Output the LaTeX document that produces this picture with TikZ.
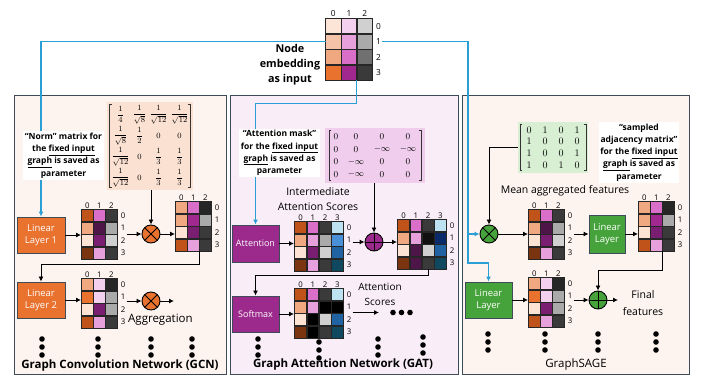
\documentclass[tikz,border=0pt]{standalone}
\usepackage{fontspec}
\setmainfont{Open Sans}
\usepackage{amsmath}
\usetikzlibrary{matrix,arrows.meta,positioning}

% square brackets round a parameter matrix
\newcommand{\mbrack}[2]{%
    \draw[brk] ([shift={(#2+2.5,3)}]#1.north west) -- ([shift={(#2,3)}]#1.north west) -- ([shift={(#2,-3)}]#1.south west) -- ([shift={(#2+2.5,-3)}]#1.south west);
    \draw[brk] ([shift={(-#2-2.5,3)}]#1.north east) -- ([shift={(-#2,3)}]#1.north east) -- ([shift={(-#2,-3)}]#1.south east) -- ([shift={(-#2-2.5,-3)}]#1.south east);
}

\begin{document}
\begin{tikzpicture}[x=1pt, y=-1pt,
    panel/.style={draw=frame, line width=1.3pt, anchor=north west, inner sep=0pt},
    cell/.style={draw=black!85, line width=0.5pt, minimum width=11.5pt, minimum height=12pt, inner sep=0pt, outer sep=0pt},
    heat/.style={matrix of nodes, nodes in empty cells, anchor=north west, inner sep=0pt, draw=black!85, line width=0.9pt, nodes={cell}},
    pmat/.style={matrix of math nodes, inner xsep=3pt, inner ysep=2pt, column sep=0pt, row sep=0pt, nodes={inner sep=0pt, anchor=center}},
    brk/.style={line width=0.6pt, black!80},
    idx/.style={font=\fontsize{7.8}{8}\selectfont, inner sep=1pt},
    layer/.style={draw=frame, line width=0.9pt, text=white, align=center, font=\fontsize{9.5}{12}\selectfont, inner sep=1pt},
    note/.style={fill=white, align=center, font=\bfseries\fontsize{8.5}{12.2}\selectfont, inner sep=1.5pt},
    op/.style={circle, draw=black, line width=0.9pt, minimum size=18pt, inner sep=0pt},
    otimes/.style={op, path picture={\draw[line width=0.9pt] (path picture bounding box.north west) -- (path picture bounding box.south east) (path picture bounding box.north east) -- (path picture bounding box.south west);}},
    oplus/.style={op, path picture={\draw[line width=0.9pt] (path picture bounding box.north) -- (path picture bounding box.south) (path picture bounding box.west) -- (path picture bounding box.east);}},
    arr/.style={-{Latex[length=5pt,width=5pt]}, line width=0.9pt},
    blu/.style={arr, draw=wire, line width=1.1pt},
    lbl/.style={font=\fontsize{10.5}{15}\selectfont, align=center, inner sep=0pt},
    title/.style={font=\bfseries\fontsize{11.5}{14}\selectfont, inner sep=0pt}]
    \definecolor{frame}{HTML}{3E4C59}
    \definecolor{wire}{HTML}{2A9FD6}
    \definecolor{bgO}{HTML}{FDF3EF}
    \definecolor{bgP}{HTML}{F9EEF8}
    \definecolor{normbg}{HTML}{FBE1D1}
    \definecolor{maskbg}{HTML}{F0CDEC}
    \definecolor{adjbg}{HTML}{D8EFD4}
    \definecolor{orL}{HTML}{E8722E}
    \definecolor{puL}{HTML}{9B2A8C}
    \definecolor{grL}{HTML}{46A23A}
    % heat map colours
    \definecolor{oA}{HTML}{C0531A}\definecolor{oB}{HTML}{F0A880}\definecolor{oC}{HTML}{FDE3D3}
    \definecolor{oD}{HTML}{7A3510}\definecolor{oE}{HTML}{E8722E}\definecolor{oF}{HTML}{F5C4A8}
    \definecolor{oG}{HTML}{FCE4D6}
    \definecolor{pA}{HTML}{D96FC9}\definecolor{pB}{HTML}{E6A0DC}\definecolor{pC}{HTML}{F2D0EE}
    \definecolor{pD}{HTML}{7A1E72}\definecolor{pE}{HTML}{4E1648}\definecolor{pF}{HTML}{A0288F}
    \definecolor{gA}{HTML}{3A3A3A}\definecolor{gB}{HTML}{AAAAAA}\definecolor{gC}{HTML}{D0D0D0}
    \definecolor{gD}{HTML}{262626}\definecolor{gE}{HTML}{707070}\definecolor{gF}{HTML}{111111}
    \definecolor{bA}{HTML}{BDE3F3}\definecolor{bB}{HTML}{4A90D9}\definecolor{bC}{HTML}{2062A2}
    \definecolor{bD}{HTML}{104860}\definecolor{bE}{HTML}{0A2A6A}

    \useasboundingbox (0,0) rectangle (702,379);

    % Panels
    \node[panel, fill=bgO, minimum width=212pt, minimum height=279pt] (gcn) at (14,95) {};
    \node[panel, fill=bgP, minimum width=228pt, minimum height=279pt] (gat) at (230,95) {};
    \node[panel, fill=bgO, minimum width=227pt, minimum height=279pt] (sage) at (462,95) {};

    % Input embedding
    \matrix[heat, nodes={minimum width=15.2pt, minimum height=15pt}] (emb) at (325,18) {
        |[fill=oG]| & |[fill=pC]| & |[fill=gC]| \\
        |[fill=oF]| & |[fill=pB]| & |[fill=gB]| \\
        |[fill=oB]| & |[fill=pA]| & |[fill=gE]| \\
        |[fill=oE]| & |[fill=pF]| & |[fill=gA]| \\
    };
    \foreach \c in {1,2,3}{
        \pgfmathtruncatemacro{\k}{\c-1}
        \node[idx, font=\fontsize{8.3}{9}\selectfont, above=0.5pt] at (emb-1-\c.north) {\k};
    }
    \foreach \r in {1,...,4}{
        \pgfmathtruncatemacro{\k}{\r-1}
        \node[idx, font=\fontsize{8.3}{9}\selectfont, right=2.5pt] (emb-r\r) at (emb-\r-3.east) {\k};
    }
    \node[font=\bfseries\fontsize{10.8}{15}\selectfont, align=center, inner sep=0pt] (embtxt) at (290,65) {Node\\embedding\\as input};

    % GCN
    \node[layer, fill=orL, minimum width=48pt, minimum height=36pt] (lin1) at (41,235) {Linear\\Layer 1};
    \node[layer, fill=orL, minimum width=48pt, minimum height=36pt] (lin2) at (41,300) {Linear\\Layer 2};
    \matrix[pmat, fill=normbg, nodes={minimum height=21pt, minimum width=21pt, font=\fontsize{8.5}{9}\selectfont},
        column 2/.style={nodes={minimum width=17pt}}] (norm) at (150,146) {
        \dfrac{1}{4} & \dfrac{1}{\sqrt{8}} & \dfrac{1}{\sqrt{12}} & \dfrac{1}{\sqrt{12}} \\
        \dfrac{1}{\sqrt{8}} & \dfrac{1}{2} & 0 & 0 \\
        \dfrac{1}{\sqrt{12}} & 0 & \dfrac{1}{3} & \dfrac{1}{3} \\
        \dfrac{1}{\sqrt{12}} & 0 & \dfrac{1}{3} & \dfrac{1}{3} \\
    };
    \mbrack{norm}{2.5}
    \matrix[heat] (m1) at (81,209) {
        |[fill=oA]| & |[fill=pA]| & |[fill=gA]| \\
        |[fill=oB]| & |[fill=pE]| & |[fill=gB]| \\
        |[fill=oC]| & |[fill=pD]| & |[fill=gC]| \\
        |[fill=oD]| & |[fill=pB]| & |[fill=gA]| \\
    };
    \matrix[heat] (m2) at (175,201) {
        |[fill=oB]| & |[fill=pA]| & |[fill=gD]| \\
        |[fill=oB]| & |[fill=pF]| & |[fill=gB]| \\
        |[fill=oC]| & |[fill=pD]| & |[fill=gA]| \\
        |[fill=oA]| & |[fill=pB]| & |[fill=gA]| \\
    };
    \matrix[heat] (m3) at (81,278) {
        |[fill=oB]| & |[fill=pC]| & |[fill=gD]| \\
        |[fill=oE]| & |[fill=pC]| & |[fill=gB]| \\
        |[fill=oC]| & |[fill=pD]| & |[fill=gB]| \\
        |[fill=oA]| & |[fill=pB]| & |[fill=gA]| \\
    };
    \node[otimes, fill=orL] (o1) at (151,234) {};
    \node[otimes, fill=orL] (o2) at (151,301) {};
    \node[lbl, font=\fontsize{11.5}{14}\selectfont, anchor=west] (aggr) at (128,320) {Aggregation};
    \node[title] (gcntitle) at (120,366) {Graph Convolution Network (GCN)};

    % GAT
    \node[layer, fill=puL, minimum width=47pt, minimum height=37pt, font=\fontsize{9}{11}\selectfont] (att) at (255.5,243.5) {Attention};
    \node[layer, fill=puL, minimum width=47pt, minimum height=36pt, font=\fontsize{9}{11}\selectfont] (sm) at (255.5,314) {Softmax};
    \matrix[pmat, fill=maskbg, inner xsep=4pt, nodes={minimum height=12.75pt, minimum width=26pt, font=\fontsize{9}{10}\selectfont},
        column 1/.style={nodes={minimum width=14pt}}] (mask) at (375,155.5) {
        0 & 0 & 0 & 0 \\
        0 & 0 & -\infty & -\infty \\
        0 & -\infty & 0 & 0 \\
        0 & -\infty & 0 & 0 \\
    };
    \mbrack{mask}{4}
    \matrix[heat, nodes={minimum width=11.75pt}] (m4) at (294,221) {
        |[fill=oA]| & |[fill=pA]| & |[fill=gA]| & |[fill=bA]| \\
        |[fill=oB]| & |[fill=pB]| & |[fill=gB]| & |[fill=bB]| \\
        |[fill=oC]| & |[fill=pD]| & |[fill=gC]| & |[fill=bC]| \\
        |[fill=oD]| & |[fill=pB]| & |[fill=gA]| & |[fill=bD]| \\
    };
    \matrix[heat, nodes={minimum width=11.75pt}] (m5) at (397,219) {
        |[fill=oA]| & |[fill=pA]| & |[fill=gA]| & |[fill=bA]| \\
        |[fill=oB]| & |[fill=pB]| & |[fill=gF]| & |[fill=bE]| \\
        |[fill=oC]| & |[fill=pE]| & |[fill=gC]| & |[fill=bC]| \\
        |[fill=oD]| & |[fill=pE]| & |[fill=gA]| & |[fill=bD]| \\
    };
    \matrix[heat, nodes={minimum width=11.75pt}] (m6) at (294,288) {
        |[fill=oA]| & |[fill=pA]| & |[fill=gA]| & |[fill=bA]| \\
        |[fill=oB]| & |[fill=pB]| & |[fill=black]| & |[fill=black]| \\
        |[fill=oC]| & |[fill=black]| & |[fill=gC]| & |[fill=bC]| \\
        |[fill=oD]| & |[fill=black]| & |[fill=gA]| & |[fill=bD]| \\
    };
    \node[oplus, fill=puL] (o3) at (374,242) {};
    \node[lbl] (inter) at (318,199.5) {Intermediate\\Attention Scores};
    \node[lbl, font=\fontsize{10}{15}\selectfont] (scores) at (380,294.5) {Attention\\Scores};
    \coordinate (scend) at (379,312.5);
    \node[title] (gattitle) at (343,365) {Graph Attention Network (GAT)};

    % GraphSAGE
    \matrix[pmat, fill=adjbg, nodes={minimum height=11.75pt, minimum width=16pt, font=\fontsize{10}{11}\selectfont}] (adj) at (553,147.5) {
        0 & 1 & 0 & 1 \\
        1 & 0 & 0 & 0 \\
        1 & 0 & 0 & 1 \\
        1 & 0 & 1 & 0 \\
    };
    \mbrack{adj}{2}
    \node[otimes, fill=grL] (sx) at (489,234) {};
    \matrix[heat] (m7) at (528,209) {
        |[fill=oA]| & |[fill=pA]| & |[fill=gA]| \\
        |[fill=oB]| & |[fill=pE]| & |[fill=gB]| \\
        |[fill=oC]| & |[fill=pD]| & |[fill=gC]| \\
        |[fill=oD]| & |[fill=pB]| & |[fill=gA]| \\
    };
    \node[layer, fill=grL, minimum width=36pt, minimum height=38pt] (slin1) at (607,234) {Linear\\Layer};
    \matrix[heat] (m8) at (638,201) {
        |[fill=oB]| & |[fill=pA]| & |[fill=gD]| \\
        |[fill=oB]| & |[fill=pF]| & |[fill=gB]| \\
        |[fill=oC]| & |[fill=pD]| & |[fill=gA]| \\
        |[fill=oA]| & |[fill=pB]| & |[fill=gA]| \\
    };
    \node[layer, fill=grL, minimum width=47pt, minimum height=36pt] (slin2) at (488.5,300) {Linear\\Layer};
    \matrix[heat] (m9) at (528,277) {
        |[fill=oB]| & |[fill=pC]| & |[fill=gD]| \\
        |[fill=oE]| & |[fill=pC]| & |[fill=gB]| \\
        |[fill=oC]| & |[fill=pD]| & |[fill=gB]| \\
        |[fill=oA]| & |[fill=pB]| & |[fill=gA]| \\
    };
    \node[oplus, fill=grL] (o4) at (598,300) {};
    \node[lbl] (mean) at (565,191) {Mean aggregated features};
    \node[lbl, font=\fontsize{10.5}{17}\selectfont] (final) at (643,303.5) {Final\\features};
    \node[font=\fontsize{11.5}{14}\selectfont, inner sep=0pt] (sagetitle) at (576,365) {GraphSAGE};

    % Index labels
    \foreach \m/\n in {m1/3,m2/3,m3/3,m4/4,m5/4,m6/4,m7/3,m8/3,m9/3}{
        \foreach \c in {1,...,\n}{
            \pgfmathtruncatemacro{\k}{\c-1}
            \node[idx, above=0.3pt] at (\m-1-\c.north) {\k};
        }
        \foreach \r in {1,...,4}{
            \pgfmathtruncatemacro{\k}{\r-1}
            \node[idx, right=2.5pt] (\m-r\r) at (\m-\r-\n.east) {\k};
        }
    }

    % Input wires
    \coordinate (vbus) at (468,263);
    \draw[blu] (emb-2-1.west) -| (lin1.north);
    \draw[blu] (emb-4-2.south east) |- ([yshift=121pt]att.north) -- (att.north);
    \draw[blu] (emb-r2.east) -| (vbus) -| (slin2.north);
    \draw[blu] (vbus |- sx.west) -- (sx.west);

    % Parameter notes (on top of wires)
    \node[note] (normtxt) at (63.5,155.5) {“Norm” matrix for\\the \underline{fixed input}\\\underline{graph} is saved as\\parameter};
    \node[note] (masktxt) at (279.5,153) {“Attention mask”\\for the \underline{fixed input}\\\underline{graph} is saved as\\parameter};
    \node[note] (adjtxt) at (639,152.5) {“sampled\\adjacency matrix”\\for the \underline{fixed input}\\\underline{graph }is saved as\\parameter};

    % GCN connectors
    \draw[arr] (norm.south -| o1) -- (o1.north);
    \draw[arr] (lin1.east) -- (lin1.east -| m1.west);
    \draw[arr] (m1-r2.east |- o1.west) -- (o1.west);
    \draw[arr] (o1.east) -- (o1.east -| m2.west);
    \draw[arr] (m2-4-2.south east) |- ([yshift=17pt]lin2.north) -- (lin2.north);
    \draw[arr] (lin2.east) -- (lin2.east -| m3.west);
    \draw[arr] (m3-r2.east |- o2.west) -- (o2.west);
    \coordinate (gcnend) at (174,301);
    \draw[arr] (o2.east) -- (gcnend);

    % GAT connectors
    \draw[arr] (mask.south -| o3) -- (o3.north);
    \draw[arr] (att.east) -- (att.east -| m4.west);
    \draw[arr] (m4-r2.east |- o3.west) -- (o3.west);
    \draw[arr] (o3.east) -- (o3.east -| m5.west);
    \draw[arr] (m5-4-3.south) |- ([yshift=20pt]sm.north) -- (sm.north);
    \draw[arr] (sm.east) -- (sm.east -| m6.west);
    \draw[arr] (m6-r2.east |- scend) -- (scend);

    % GraphSAGE connectors
    \draw[arr] (adj.west) -| (sx.north);
    \draw[arr] (sx.east) -- (sx.east -| m7.west);
    \draw[arr] (m7-r2.east |- slin1.west) -- (slin1.west);
    \draw[arr] (slin1.east) -- (slin1.east -| m8.west);
    \draw[arr] (m8-4-2.south east) |- ([yshift=20pt]o4.north) -- (o4.north);
    \draw[arr] (slin2.east) -- (slin2.east -| m9.west);
    \draw[arr] (m9-r2.east |- o4.west) -- (o4.west);
    \coordinate (sageend) at (618,300);
    \draw[arr] (o4.east) -- (sageend);

    % Dots
    \foreach \x/\y in {42/339, 98/339, 151/339, 192/339, 258/339, 319/342, 378/339, 423/337, 488/334, 545/334, 598/334, 656/334}
        \foreach \k in {0,1,2}
            \fill (\x,\y+8*\k) circle[radius=2.8pt];
    \foreach \x in {393,401.5,410}
        \fill (\x,312.5) circle[radius=2.8pt];
\end{tikzpicture}
\end{document}
